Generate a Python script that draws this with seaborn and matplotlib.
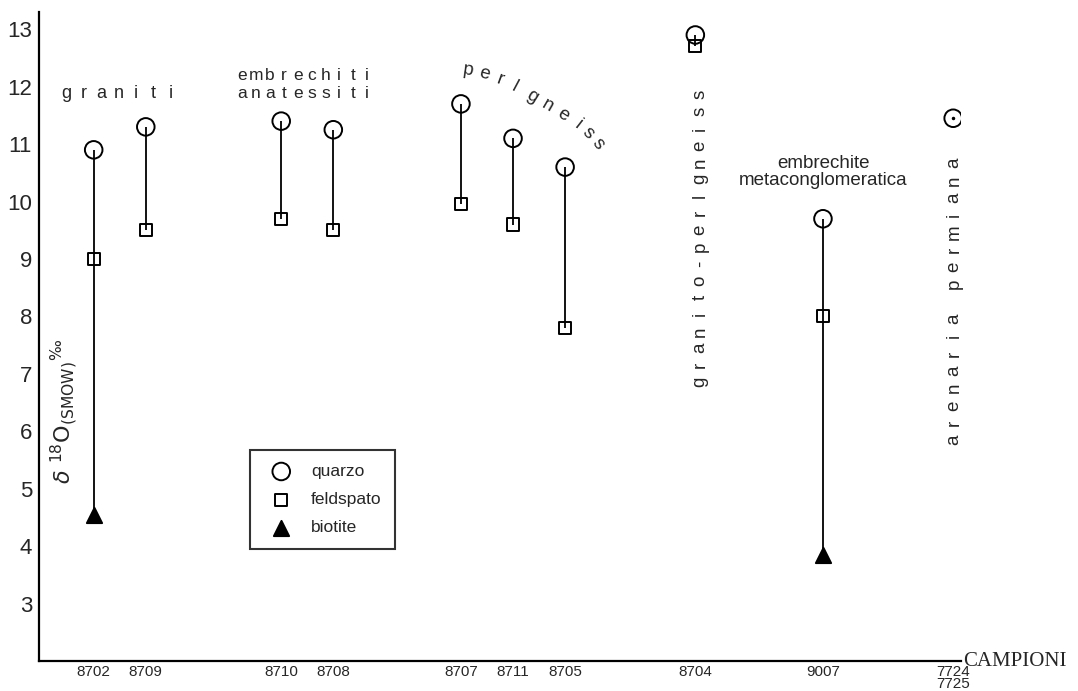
import numpy as np
import pandas as pd
import matplotlib
matplotlib.use("Agg")
import matplotlib.pyplot as plt
import seaborn as sns

# campioni e valori delta 18O (SMOW)
campioni = ["8702", "8709", "8710", "8708", "8707", "8711", "8705", "8704", "9007", "7724\n7725"]
posizioni = [0, 2, 7.2, 9.2, 14.1, 16.1, 18.1, 23.1, 28, 33]
quarzo = [10.9, 11.3, 11.4, 11.25, 11.7, 11.1, 10.6, 12.9, 9.7, 11.45]
feldspato = [9.0, 9.5, 9.7, 9.5, 9.95, 9.6, 7.8, 12.7, 8.0, np.nan]
biotite = [4.55, np.nan, np.nan, np.nan, np.nan, np.nan, np.nan, np.nan, 3.85, np.nan]
y_ticks = [3, 4, 5, 6, 7, 8, 9, 10, 11, 12, 13]

df = pd.DataFrame({
    "campione": campioni * 3,
    "x": posizioni * 3,
    "valore": quarzo + feldspato + biotite,
    "minerale": ["quarzo"] * 10 + ["feldspato"] * 10 + ["biotite"] * 10,
}).dropna()

sns.set_style("white")
plt.rcParams["font.family"] = ["Liberation Sans", "DejaVu Sans"]

W, H = 1078, 691
fig = plt.figure(figsize=(W / 100, H / 100), dpi=100)
ax = fig.add_axes([39 / W, 1 - 661 / H, (961 - 39) / W, (661 - 12) / H])

# linee verticali che uniscono i minerali dello stesso campione
span = df.groupby("x")["valore"].agg(["min", "max"]).reset_index()
ax.vlines(span["x"], span["min"], span["max"], color="black", lw=1.3, zorder=1)

stili = {"quarzo": ("o", 160, "none"), "feldspato": ("s", 75, "none"), "biotite": ("^", 120, "black")}
for m, (mk, s, fc) in stili.items():
    sub = df[df["minerale"] == m]
    sns.scatterplot(data=sub, x="x", y="valore", marker=mk, s=s, color="black",
                    edgecolor="black", linewidth=1.4, label=m, ax=ax, zorder=3)
    ax.collections[-1].set_facecolor(fc)

# puntino al centro del cerchio isolato
ax.plot(posizioni[-1], quarzo[-1], marker=".", ms=3, color="black")

ax.set_xlim(-2.1, 33.3)
ax.set_ylim(2, 13.3)
ax.set_xticks(posizioni)
ax.set_xticklabels(campioni, fontsize=11, linespacing=0.78)
ax.set_yticks(y_ticks)
ax.set_yticklabels([str(t) for t in y_ticks], fontsize=16)
ax.tick_params(axis="y", direction="in", length=10, width=1.4, pad=5)
ax.tick_params(axis="x", direction="in", length=7, width=1.4, pad=3)
ax.set_xlabel("")
ax.set_ylabel("")
sns.despine(ax=ax)
for sp in ["left", "bottom"]:
    ax.spines[sp].set_linewidth(1.6)
    ax.spines[sp].set_color("black")

ax.text(1.002, 0, "CAMPIONI", transform=ax.transAxes, va="center", ha="left",
        family="Liberation Serif", fontsize=15)

leg = ax.legend(loc="upper left", bbox_to_anchor=((250 - 39) / 922, (661 - 450) / 649),
                borderaxespad=0, frameon=True, fancybox=False, edgecolor="black",
                fontsize=12.5, labelspacing=0.75, borderpad=0.8, handletextpad=0.7)
leg.get_frame().set_linewidth(1.5)


def px(x, y):
    return x / W, 1 - y / H


def lettere(testo, x0, y0, dx, dy, rot=0, size=12):
    for i, ch in enumerate(testo):
        fig.text(*px(x0 + i * dx, y0 + i * dy), ch, rotation=rot, ha="center",
                 va="center", fontsize=size)


fig.text(*px(64, 411), r"$\delta\ ^{18}\mathrm{O}_{(\mathrm{SMOW})}{}^{‰}$",
         rotation=90, ha="center", va="center", fontsize=16)

lettere("graniti", 66, 94, 17.5, 0, size=13)
lettere("embrechiti", 242, 75, 13.9, 0, size=12.5)
lettere("anatessiti", 242, 94, 13.9, 0, size=12.5)

# testo curvo
curva = [(468, 70, -8), (484, 74, -14), (500, 80, -20), (515, 87, -28), (532, 97, -32),
         (548, 106, -30), (563, 115, -32), (578, 125, -38), (588, 133, -45), (598, 144, -52)]
for ch, (x, y, r) in zip("perlgneiss", curva):
    fig.text(*px(x, y), ch, rotation=r, ha="center", va="center", fontsize=13.5)

lettere("granito-perlgneiss", 700, 382, 0, -16.9, rot=90, size=13.5)
lettere("arenaria permiana", 954, 440, 0, -17.3, rot=90, size=13.5)

fig.text(*px(823, 172), "embrechite\nmetaconglomeratica", ha="center", va="center",
         fontsize=13.5, linespacing=0.95)

fig.savefig("out.png", dpi=100)
